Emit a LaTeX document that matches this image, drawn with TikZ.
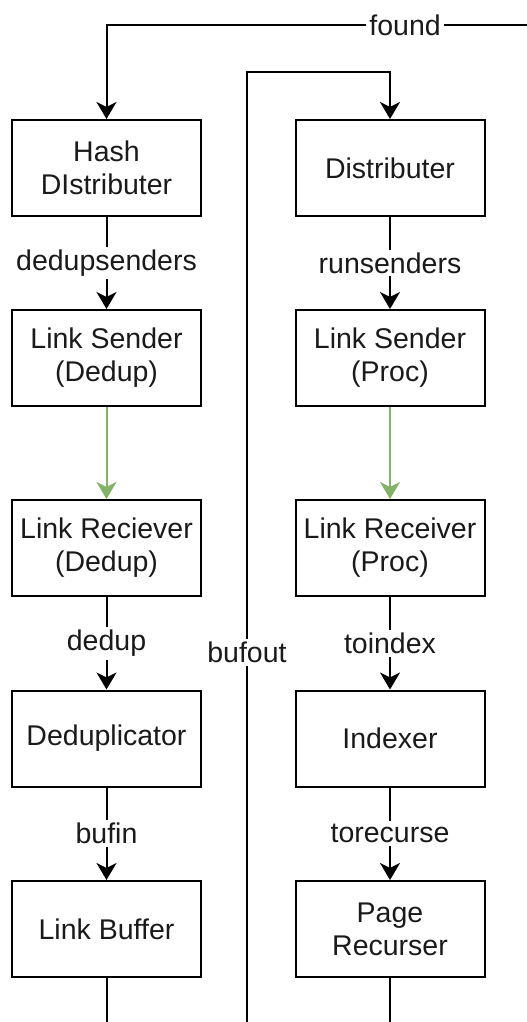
\documentclass[tikz,border=0pt]{standalone}
\usepackage{fontspec}
\setmainfont{Liberation Sans}
\usetikzlibrary{arrows.meta}
\definecolor{edgegreen}{HTML}{82B366}
\definecolor{inkgray}{HTML}{1A1A1A}
\tikzset{
  box/.style={draw=black, line width=2pt, minimum width=189pt, minimum height=96pt,
    align=center, inner sep=0pt, text=inkgray, font=\fontsize{28.5}{33}\selectfont},
  flow/.style={draw=black, line width=2pt,
    -{Stealth[length=17pt,width=20pt,inset=5pt]}},
  plain/.style={draw=black, line width=2pt},
  link/.style={draw=edgegreen, line width=2pt,
    -{Stealth[length=17pt,width=20pt,inset=5pt]}},
  tag/.style={fill=white, inner sep=3pt, text=inkgray, font=\fontsize{28.5}{33}\selectfont}
}
\begin{document}
\begin{tikzpicture}[x=1pt,y=-1pt]
  \useasboundingbox (0,0) rectangle (527,1022);

  % left column: deduplication path
  \node[box] (hash)   at (106.5,168)   {Hash\\DIstributer};
  \node[box] (lsd)    at (106.5,358)   {Link Sender\\(Dedup)};
  \node[box] (lrd)    at (106.5,548)   {Link Reciever\\(Dedup)};
  \node[box] (dedupl) at (106.5,738.5) {Deduplicator};
  \node[box] (lbuf)   at (106.5,929)   {Link Buffer};

  % right column: processing path
  \node[box] (dist)   at (390,168)   {Distributer};
  \node[box] (lsp)    at (390,358)   {Link Sender\\(Proc)};
  \node[box] (lrp)    at (390,548)   {Link Receiver\\(Proc)};
  \node[box] (idx)    at (390,738.5) {Indexer};
  \node[box] (prec)   at (390,929)   {Page\\Recurser};

  % loose ends of the long feedback lines
  \coordinate (foundin)  at (527,25);
  \coordinate (foundbend) at (106.5,25);
  \coordinate (bufbase) at (247,1022);
  \coordinate (bufleft) at (247,72);
  \coordinate (bufright) at (390,72);
  \coordinate (lbufend) at (106.5,1022);
  \coordinate (precend) at (390,1022);

  % feedback into the hash distributer
  \draw[flow] (foundin) -- node[tag, pos=0.29] {found} (foundbend) -- (hash.north);

  % buffered links back into the distributer
  \draw[flow] (bufbase) -- node[tag, pos=0.389] {bufout} (bufleft) -- (bufright) -- (dist.north);

  % left column connectors
  \draw[flow] (hash) -- node[tag] {dedupsenders} (lsd);
  \draw[link] (lsd) -- (lrd);
  \draw[flow] (lrd) -- node[tag] {dedup} (dedupl);
  \draw[flow] (dedupl) -- node[tag] {bufin} (lbuf);
  \draw[plain] (lbuf) -- (lbufend);

  % right column connectors
  \draw[flow] (dist) -- node[tag] {runsenders} (lsp);
  \draw[link] (lsp) -- (lrp);
  \draw[flow] (lrp) -- node[tag] {toindex} (idx);
  \draw[flow] (idx) -- node[tag] {torecurse} (prec);
  \draw[plain] (prec) -- (precend);
\end{tikzpicture}
\end{document}
